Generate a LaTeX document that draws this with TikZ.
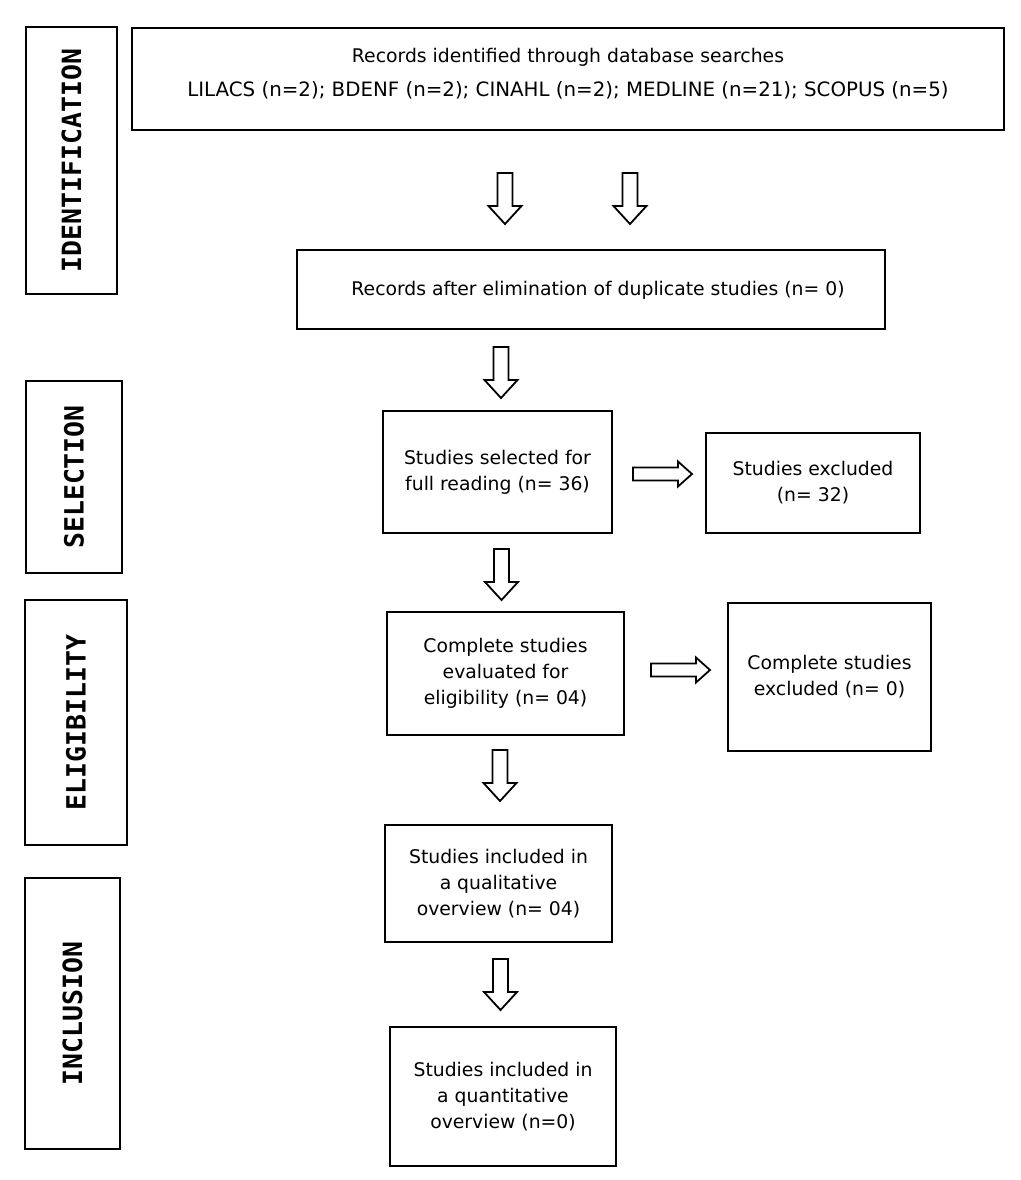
\documentclass[tikz,border=0pt]{standalone}
\usepackage{fontspec}
\setmainfont{DejaVu Sans}
\newfontfamily\sidefont{DejaVu Sans Mono}
\begin{document}
\begin{tikzpicture}[x=1pt,y=-1pt,
  box/.style={draw=black, line width=1.7pt, inner sep=0pt, align=center,
    font=\fontsize{18.8}{26}\selectfont},
  btext/.style={inner sep=0pt, align=center, font=\fontsize{18.8}{34}\selectfont},
  side/.style={draw=black, line width=1.7pt, inner sep=0pt, rotate=90,
    font=\sidefont\bfseries\fontsize{26.5}{30}\selectfont},
  darrow/.pic={\draw[line width=1.8pt, line join=miter]
    (-7.5,0) -- (-7.5,33) -- (-16.5,33) -- (0,51) -- (16.5,33) -- (7.5,33) -- (7.5,0) -- cycle;},
  rarrow/.pic={\draw[line width=1.8pt, line join=miter]
    (0,-6.5) -- (45,-6.5) -- (45,-12.5) -- (59,0) -- (45,12.5) -- (45,6.5) -- (0,6.5) -- cycle;}
]
\fill[white] (0,0) rectangle (1020,1180);
\useasboundingbox (0,0) rectangle (1020,1180);

% side boxes
\node[side, minimum width=267, minimum height=91] (sid) at (71.5,160.5) {IDENTIFICATION};
\node[side, minimum width=192, minimum height=96] (ssel) at (74,477) {SELECTION};
\node[side, minimum width=245, minimum height=102] (selig) at (76,722.5) {ELIGIBILITY};
\node[side, minimum width=271, minimum height=95] (sinc) at (72.5,1013.5) {INCLUSION};

% main boxes
\node[box, minimum width=872, minimum height=102] (rec) at (568,79) {};
\node[btext] (rectext) at (568,74) {Records identified through database searches\\{\fontsize{19.8}{34}\selectfont LILACS (n=2); BDENF (n=2); CINAHL (n=2); MEDLINE (n=21); SCOPUS (n=5)}};

\node[box, minimum width=588, minimum height=79] (dup) at (591,289.5) {};
\node[btext] (duptext) at (598,290) {Records after elimination of duplicate studies (n= 0)};

\node[box, minimum width=229, minimum height=122] (sel) at (497.5,472) {Studies selected for\\full reading (n= 36)};
\node[box, minimum width=214, minimum height=100] (exc) at (813,483) {Studies excluded\\(n= 32)};
\node[box, minimum width=237, minimum height=123] (elig) at (505.5,673.5) {Complete studies\\evaluated for\\eligibility (n= 04)};
\node[box, minimum width=203, minimum height=148] (cexc) at (829.5,677) {Complete studies\\excluded (n= 0)};
\node[box, minimum width=227, minimum height=117] (qual) at (498.5,883.5) {Studies included in\\a qualitative\\overview (n= 04)};
\node[box, minimum width=226, minimum height=139] (quant) at (503,1096.5) {Studies included in\\a quantitative\\overview (n=0)};

% block arrows
\pic at (505,173) {darrow};
\pic at (630,173) {darrow};
\pic at (501,347) {darrow};
\pic at (501.5,549) {darrow};
\pic at (500,750) {darrow};
\pic at (500.5,959) {darrow};
\pic at (633,474) {rarrow};
\pic at (651,670) {rarrow};
\end{tikzpicture}
\end{document}
